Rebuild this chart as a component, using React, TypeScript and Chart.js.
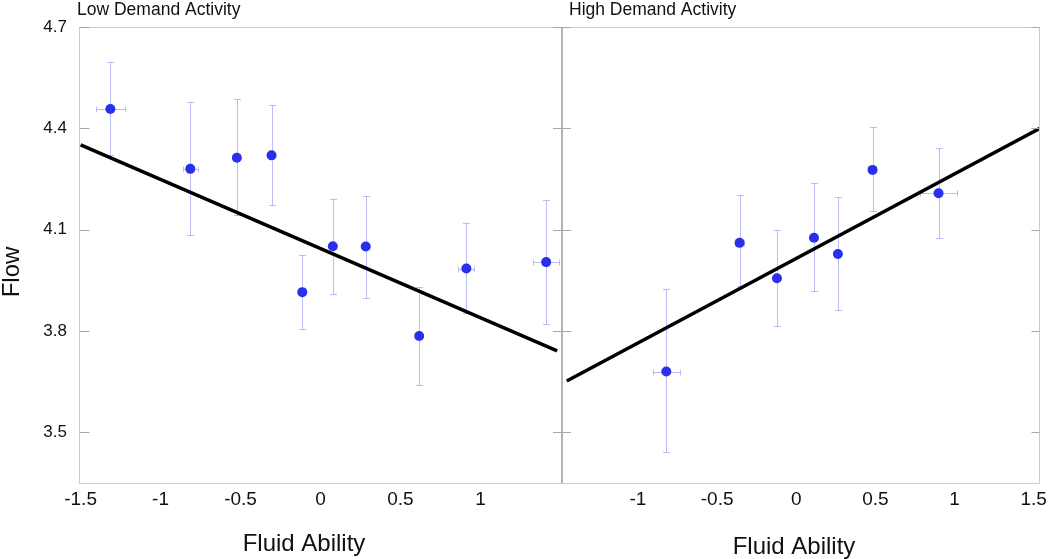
import React, { useEffect, useRef } from 'react';
import { Chart, registerables } from 'chart.js';

Chart.register(...registerables);

const FONT = '"Liberation Sans", Arial, Helvetica, sans-serif';

// ---- axis values ----
const Y_MIN = 3.35;
const Y_MAX = 4.7;
const Y_TICKS = [3.5, 3.8, 4.1, 4.4, 4.7];

const LOW_X_MIN = -1.51;
const LOW_X_MAX = 1.51;
const LOW_X_TICKS = [-1.5, -1, -0.5, 0, 0.5, 1];

const HIGH_X_MIN = -1.48;
const HIGH_X_MAX = 1.54;
const HIGH_X_TICKS = [-1, -0.5, 0, 0.5, 1, 1.5];

// ---- Low Demand Activity ----
const LOW_X = [-1.314, -0.814, -0.523, -0.306, -0.114, 0.077, 0.283, 0.617, 0.912, 1.411];
const LOW_Y = [4.457, 4.280, 4.313, 4.320, 3.915, 4.051, 4.050, 3.785, 3.985, 4.004];
const LOW_Y_HI = [4.597, 4.479, 4.486, 4.469, 4.025, 4.191, 4.201, 3.931, 4.121, 4.189];
const LOW_Y_LO = [4.322, 4.083, 4.144, 4.172, 3.805, 3.909, 3.897, 3.640, 3.852, 3.820];
const LOW_X_ERR = [0.092, 0.045, 0, 0, 0, 0, 0, 0, 0.05, 0.081];
const LOW_LINE_X = [-1.5, 1.48];
const LOW_LINE_Y = [4.351, 3.741];

// ---- High Demand Activity ----
const HIGH_X = [-0.821, -0.358, -0.122, 0.112, 0.263, 0.482, 0.899];
const HIGH_Y = [3.680, 4.061, 3.956, 4.076, 4.028, 4.277, 4.208];
const HIGH_Y_HI = [3.923, 4.204, 4.100, 4.238, 4.196, 4.404, 4.341];
const HIGH_Y_LO = [3.442, 3.932, 3.814, 3.919, 3.861, 4.156, 4.074];
const HIGH_X_ERR = [0.084, 0.03, 0, 0, 0, 0, 0.115];
const HIGH_LINE_X = [-1.45, 1.54];
const HIGH_LINE_Y = [3.652, 4.400];

const POINT_COLOR = '#2a2fec';
const ERR_COLOR = 'rgba(110,110,235,0.45)';
const FRAME_COLOR = '#cccccc';
const SEP_COLOR = '#9a9a9a';
const TICK_COLOR = '#a8a8a8';
const TEXT_COLOR = '#111111';

const errorBars = {
  id: 'errorBars',
  beforeDatasetsDraw(chart: any) {
    const { ctx, scales } = chart;
    const xs = scales.x;
    const ys = scales.y;
    chart.data.datasets.forEach((ds: any) => {
      if (!ds.yLow) return;
      ctx.save();
      ctx.strokeStyle = ERR_COLOR;
      ctx.lineWidth = 1;
      ds.data.forEach((pt: any, i: number) => {
        const px = Math.round(xs.getPixelForValue(pt.x)) + 0.5;
        const py = Math.round(ys.getPixelForValue(pt.y)) + 0.5;
        const yl = Math.round(ys.getPixelForValue(ds.yLow[i])) + 0.5;
        const yh = Math.round(ys.getPixelForValue(ds.yHigh[i])) + 0.5;
        ctx.beginPath();
        ctx.moveTo(px, yl);
        ctx.lineTo(px, yh);
        ctx.moveTo(px - 3.5, yl);
        ctx.lineTo(px + 3.5, yl);
        ctx.moveTo(px - 3.5, yh);
        ctx.lineTo(px + 3.5, yh);
        const e = ds.xErr[i];
        if (e > 0) {
          const xl = Math.round(xs.getPixelForValue(pt.x - e)) + 0.5;
          const xr = Math.round(xs.getPixelForValue(pt.x + e)) + 0.5;
          ctx.moveTo(xl, py);
          ctx.lineTo(xr, py);
          ctx.moveTo(xl, py - 3);
          ctx.lineTo(xl, py + 3);
          ctx.moveTo(xr, py - 3);
          ctx.lineTo(xr, py + 3);
        }
        ctx.stroke();
      });
      ctx.restore();
    });
  },
};

const decor = {
  id: 'decor',
  afterDraw(chart: any, _args: any, o: any) {
    const { ctx, chartArea: ca, scales } = chart;
    const ys = scales.y;
    const seg = (x1: number, y1: number, x2: number, y2: number) => {
      ctx.beginPath();
      ctx.moveTo(x1, y1);
      ctx.lineTo(x2, y2);
      ctx.stroke();
    };
    const L = Math.round(ca.left) + 0.5;
    const R = Math.round(ca.right) - 0.5;
    const T = Math.round(ca.top) + 0.5;
    const B = Math.round(ca.bottom) + 0.5;
    ctx.save();
    ctx.lineWidth = 1;
    ctx.strokeStyle = FRAME_COLOR;
    seg(ca.left, T, ca.right, T);
    seg(ca.left, B, ca.right, B);
    if (o.leftFrame) {
      seg(L, ca.top, L, ca.bottom);
      ctx.strokeStyle = TICK_COLOR;
      Y_TICKS.forEach((v) => {
        const py = Math.round(ys.getPixelForValue(v)) + 0.5;
        seg(L, py, L + 10, py);
      });
    }
    if (o.rightFrame) {
      ctx.strokeStyle = FRAME_COLOR;
      seg(R, ca.top, R, ca.bottom);
      ctx.strokeStyle = TICK_COLOR;
      Y_TICKS.forEach((v) => {
        const py = Math.round(ys.getPixelForValue(v)) + 0.5;
        seg(R - 8, py, R, py);
      });
    }
    if (o.separator) {
      ctx.strokeStyle = SEP_COLOR;
      ctx.lineWidth = 1.5;
      seg(ca.left, ca.top, ca.left, ca.bottom);
      ctx.lineWidth = 1;
      ctx.strokeStyle = TICK_COLOR;
      Y_TICKS.forEach((v) => {
        const py = Math.round(ys.getPixelForValue(v)) + 0.5;
        seg(ca.left - 9, py, ca.left + 9, py);
      });
    }
    ctx.fillStyle = TEXT_COLOR;
    (o.texts || []).forEach((t: any) => {
      ctx.save();
      ctx.font = `${t.size}px ${FONT}`;
      ctx.textBaseline = 'alphabetic';
      ctx.textAlign = t.align || 'left';
      ctx.translate(t.x, t.y);
      if (t.rotate) ctx.rotate(-Math.PI / 2);
      ctx.fillText(t.text, 0, 0);
      ctx.restore();
    });
    ctx.restore();
  },
};

type Panel = {
  xs: number[];
  ys: number[];
  yHi: number[];
  yLo: number[];
  xErr: number[];
  lineX: number[];
  lineY: number[];
  xMin: number;
  xMax: number;
  xTicks: number[];
  showY: boolean;
  padding: any;
  decor: any;
};

function buildConfig(p: Panel): any {
  return {
    type: 'scatter',
    data: {
      datasets: [
        {
          data: p.xs.map((x, i) => ({ x, y: p.ys[i] })),
          yLow: p.yLo,
          yHigh: p.yHi,
          xErr: p.xErr,
          pointRadius: 5,
          pointHoverRadius: 5,
          pointBackgroundColor: POINT_COLOR,
          pointBorderWidth: 0,
          backgroundColor: POINT_COLOR,
          borderColor: POINT_COLOR,
        },
        {
          data: p.lineX.map((x, i) => ({ x, y: p.lineY[i] })),
          showLine: true,
          borderColor: '#000000',
          borderWidth: 3.5,
          pointRadius: 0,
          fill: false,
        },
      ],
    },
    options: {
      responsive: false,
      animation: false,
      events: [],
      layout: { padding: p.padding },
      plugins: {
        legend: { display: false },
        tooltip: { enabled: false },
        title: { display: false },
        decor: p.decor,
      },
      scales: {
        x: {
          type: 'linear',
          min: p.xMin,
          max: p.xMax,
          afterBuildTicks: (s: any) => {
            s.ticks = p.xTicks.map((v) => ({ value: v }));
          },
          afterFit: (s: any) => {
            s.height = 76;
            s.paddingLeft = 0;
            s.paddingRight = 0;
          },
          grid: { display: false, drawTicks: false, tickLength: 0 },
          border: { display: false },
          ticks: {
            font: { family: FONT, size: 19 },
            color: TEXT_COLOR,
            padding: 5,
            autoSkip: false,
            maxRotation: 0,
            callback: (v: any) => String(v),
          },
        },
        y: {
          type: 'linear',
          display: p.showY,
          min: Y_MIN,
          max: Y_MAX,
          afterBuildTicks: (s: any) => {
            s.ticks = Y_TICKS.map((v) => ({ value: v }));
          },
          afterFit: (s: any) => {
            s.width = p.showY ? 79 : 0;
            s.paddingTop = 0;
            s.paddingBottom = 0;
          },
          grid: { display: false, drawTicks: false, tickLength: 0 },
          border: { display: false },
          ticks: {
            font: { family: FONT, size: 17 },
            color: TEXT_COLOR,
            padding: 12,
            callback: (v: any) => Number(v).toFixed(1),
          },
        },
      },
    },
    plugins: [errorBars, decor],
  };
}

const LEFT: Panel = {
  xs: LOW_X,
  ys: LOW_Y,
  yHi: LOW_Y_HI,
  yLo: LOW_Y_LO,
  xErr: LOW_X_ERR,
  lineX: LOW_LINE_X,
  lineY: LOW_LINE_Y,
  xMin: LOW_X_MIN,
  xMax: LOW_X_MAX,
  xTicks: LOW_X_TICKS,
  showY: true,
  padding: { top: 27, left: 0, right: 0, bottom: 0 },
  decor: {
    leftFrame: true,
    texts: [
      { text: 'Low Demand Activity', x: 77, y: 15, size: 17.5 },
      { text: 'Flow', x: 19, y: 272, size: 24, align: 'center', rotate: true },
      { text: 'Fluid Ability', x: 304, y: 551, size: 24, align: 'center' },
    ],
  },
};

const RIGHT: Panel = {
  xs: HIGH_X,
  ys: HIGH_Y,
  yHi: HIGH_Y_HI,
  yLo: HIGH_Y_LO,
  xErr: HIGH_X_ERR,
  lineX: HIGH_LINE_X,
  lineY: HIGH_LINE_Y,
  xMin: HIGH_X_MIN,
  xMax: HIGH_X_MAX,
  xTicks: HIGH_X_TICKS,
  showY: false,
  padding: { top: 27, left: 22, right: 10, bottom: 0 },
  decor: {
    rightFrame: true,
    separator: true,
    texts: [
      { text: 'High Demand Activity', x: 29, y: 15, size: 17.5 },
      { text: 'Fluid Ability', x: 254, y: 554, size: 24, align: 'center' },
    ],
  },
};

export default function App() {
  const leftRef = useRef<HTMLCanvasElement>(null);
  const rightRef = useRef<HTMLCanvasElement>(null);
  useEffect(() => {
    const a = new Chart(leftRef.current as HTMLCanvasElement, buildConfig(LEFT));
    const b = new Chart(rightRef.current as HTMLCanvasElement, buildConfig(RIGHT));
    return () => {
      a.destroy();
      b.destroy();
    };
  }, []);
  return (
    <div
      style={{
        position: 'absolute',
        left: 0,
        top: 0,
        width: 1050,
        height: 559,
        background: '#ffffff',
        overflow: 'hidden',
      }}
    >
      <canvas
        ref={leftRef}
        width={567}
        height={559}
        style={{ position: 'absolute', left: 0, top: 0, width: 567, height: 559 }}
      />
      <canvas
        ref={rightRef}
        width={510}
        height={559}
        style={{ position: 'absolute', left: 540, top: 0, width: 510, height: 559 }}
      />
    </div>
  );
}
